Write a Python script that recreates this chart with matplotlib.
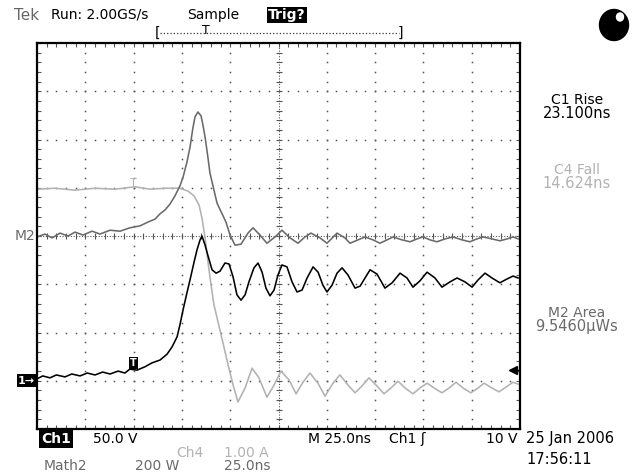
import matplotlib
matplotlib.use('Agg')
import matplotlib.pyplot as plt
import matplotlib.transforms as mtransforms
from matplotlib.patches import Ellipse
from matplotlib.lines import Line2D
import numpy as np

# scope screen: 25 ns/div horizontally (10 div), vertical values in screen divisions (8 div)
# Ch4 current (light gray)
c4_t = [0, 9.3, 19.7, 30.0, 40.4, 50.7, 58.5, 66.3, 74.0, 78.2, 81.3, 83.9, 85.4, 87.0,
        88.5, 90.1, 91.6, 93.7, 96.3, 98.9, 101.5, 104.0, 107.7, 111.3, 114.9, 119.0,
        122.7, 126.3, 130.4, 134.1, 137.7, 141.3, 145.4, 149.1, 153.2, 156.8, 161.0,
        164.6, 168.2, 171.8, 176.0, 179.6, 183.2, 186.9, 190.5, 194.6, 198.2, 201.9,
        205.5, 209.6, 213.3, 216.9, 220.5, 224.6, 228.3, 231.4, 235.5, 239.1, 242.8,
        246.4, 249.0]
c4_div = [0.97, 0.99, 0.95, 0.99, 0.97, 1.02, 0.97, 0.99, 0.99, 0.93, 0.83, 0.64, 0.37, -0.04,
          -0.54, -1.02, -1.43, -1.78, -2.22, -2.67, -3.09, -3.44, -3.15, -2.74, -2.94, -3.34,
          -3.09, -2.80, -2.98, -3.27, -3.03, -2.84, -3.05, -3.32, -3.05, -2.88, -3.09,
          -3.25, -3.11, -2.94, -3.11, -3.27, -3.15, -3.01, -3.15, -3.27, -3.15, -3.05,
          -3.15, -3.25, -3.15, -3.03, -3.15, -3.25, -3.15, -3.05, -3.15, -3.23, -3.13,
          -3.03, -3.07]

# Ch1 voltage (black)
c1_t = [0, 3, 6.7, 10, 14.5, 18, 22.3, 26, 30.0, 34, 37.8, 42, 45.5, 48, 51.8, 55.9,
        59.5, 63.7, 67.3, 69.9, 72.5, 74.0, 75.6, 77.6, 79.2, 81.3, 82.8, 84.4, 85.4,
        87.0, 88.5, 90.6, 92.7, 94.7, 97.3, 99.4, 101.5, 103.5, 105.6, 107.7, 109.7,
        112.3, 114.4, 116.5, 118.5, 120.6, 122.7, 124.7, 126.8, 129.4, 132.0, 134.6,
        137.2, 139.8, 142.9, 145.5, 148.0, 150.1, 152.7, 155.3, 157.9, 161.0, 164.6,
        167.2, 169.8, 172.4, 176.0, 180.1, 183.8, 187.9, 191.5, 194.6, 198.2, 201.9,
        206.0, 209.6, 213.8, 217.4, 221.5, 225.2, 228.3, 231.9, 235.5, 239.6, 243.3,
        246.4, 249.0]
c1_div = [-2.96, -2.90, -2.94, -2.88, -2.92, -2.86, -2.90, -2.84, -2.88, -2.82, -2.86, -2.80,
          -2.84, -2.76, -2.78, -2.71, -2.63, -2.57, -2.45, -2.30, -2.09, -1.84, -1.53,
          -1.18, -0.91, -0.54, -0.29, -0.08, 0.00, -0.19, -0.41, -0.70, -0.77, -0.73,
          -0.56, -0.58, -0.85, -1.22, -1.33, -1.22, -0.95, -0.66, -0.56, -0.75, -1.08,
          -1.24, -1.12, -0.81, -0.60, -0.64, -0.95, -1.16, -1.12, -0.87, -0.64, -0.75,
          -1.02, -1.16, -1.02, -0.77, -0.66, -0.81, -1.08, -1.04, -0.87, -0.70, -0.79,
          -1.08, -0.97, -0.77, -0.87, -1.06, -0.93, -0.75, -0.87, -1.06, -0.95, -0.87,
          -0.95, -1.06, -0.91, -0.77, -0.87, -0.97, -0.89, -0.83, -0.87]

# Math2 power (dark gray)
m2_t = [0, 4.1, 7.8, 11.9, 16.0, 19.7, 23.8, 28.5, 32.6, 37.8, 43.0, 48.1, 53.3, 57.5,
        61.1, 63.7, 66.3, 68.8, 71.4, 74.0, 75.6, 77.6, 79.2, 80.7, 81.8, 83.3, 84.9,
        85.9, 87.0, 88.5, 89.5, 91.6, 93.2, 95.8, 97.8, 99.9, 102.5, 105.6, 109.2,
        111.8, 115.4, 119.0, 123.2, 126.8, 131.0, 135.1, 138.7, 141.8, 146.5, 150.1,
        155.3, 159.4, 162.0, 166.2, 169.8, 173.9, 177.5, 181.2, 184.3, 188.9, 193.1,
        196.7, 199.8, 203.4, 207.0, 211.2, 215.3, 220.0, 224.1, 227.7, 230.9, 235.5,
        239.6, 243.3, 246.4, 249.0]
m2_div = [-0.02, 0.04, -0.04, 0.06, 0.00, 0.08, 0.02, 0.10, 0.04, 0.12, 0.10, 0.17, 0.21,
          0.29, 0.35, 0.46, 0.54, 0.66, 0.83, 1.04, 1.22, 1.53, 1.84, 2.24, 2.47, 2.57,
          2.49, 2.30, 2.05, 1.62, 1.31, 0.95, 0.68, 0.46, 0.29, 0.02, -0.19, -0.17, 0.06,
          0.17, 0.02, -0.15, -0.02, 0.12, -0.04, -0.15, -0.02, 0.06, -0.04, -0.15, 0.06,
          -0.04, -0.15, -0.08, -0.02, -0.08, -0.15, -0.08, -0.02, -0.08, -0.12, -0.06,
          -0.02, -0.08, -0.12, -0.06, -0.02, -0.08, -0.12, -0.06, -0.02, -0.06, -0.10,
          -0.06, -0.02, -0.06]

trig_t = 50.0
c4_trig = 1.10
c1_trig = -2.63
c1_ref = -3.0
m2_ref = 0.0
c4_ref = -2.78

LIGHT = '#b2b2b2'
DARK = '#6a6a6a'
GRID = '#555555'

W, H = 632, 474
fig = plt.figure(figsize=(W / 100, H / 100), dpi=100)
ax = fig.add_axes([37 / W, 1 - 429 / H, 483 / W, 386 / H])
ax.set_xlim(0, 250)
ax.set_ylim(-4, 4)

ax.set_xticks(np.arange(0, 251, 25))
ax.set_xticks(np.arange(0, 251, 5), minor=True)
ax.set_yticks(np.arange(-4, 4.01, 1))
ax.set_yticks(np.arange(-4, 4.01, 0.2), minor=True)
ax.tick_params(which='both', direction='in', top=True, right=True, length=3,
               width=0.8, color=GRID, labelbottom=False, labelleft=False)
for s in ax.spines.values():
    s.set_linewidth(1.6)

# dotted graticule
ydots = np.arange(-3.8, 3.81, 0.2)
xdots = np.arange(5, 250, 5)
for t in range(25, 250, 25):
    if t == 125:
        continue
    ax.plot([t] * len(ydots), ydots, ls='none', marker='s', ms=1.1, mew=0, color=GRID)
for y in range(-3, 4):
    if y == 0:
        continue
    ax.plot(xdots, [y] * len(xdots), ls='none', marker='s', ms=1.1, mew=0, color=GRID)
ax.axvline(125, ls=(0, (1, 1.5)), lw=0.8, color=GRID)
ax.axhline(0, ls=(0, (1, 1.5)), lw=0.8, color=GRID)
ax.plot(xdots, [0] * len(xdots), ls='none', marker='|', ms=5, mew=0.8, color=GRID)
ax.plot([125] * len(ydots), ydots, ls='none', marker='_', ms=5, mew=0.8, color=GRID)

# traces
ax.plot(c4_t, c4_div, color=LIGHT, lw=1.15)
ax.plot(m2_t, m2_div, color=DARK, lw=1.15)
ax.plot(c1_t, c1_div, color='black', lw=1.15)

# trigger / reference markers
ax.text(trig_t, c4_trig, 'T', color=LIGHT, ha='center', va='center', fontsize=8)
ax.text(trig_t, c1_trig, 'T', color='white', ha='center', va='center', fontsize=7,
        fontweight='bold', bbox=dict(fc='black', ec='none', pad=1))
trans = mtransforms.blended_transform_factory(ax.transAxes, ax.transData)
ax.text(-0.004, m2_ref, 'M2', transform=trans, ha='right', va='center', color=DARK, fontsize=10)
ax.text(-0.004, c1_ref, '1\u2192', transform=trans, ha='right', va='center', color='white',
        fontsize=8, fontweight='bold', bbox=dict(fc='black', ec='none', pad=1))
ax.plot([0.985], [c4_ref], transform=trans, marker='<', ms=6, color='black', clip_on=False)
ax.plot([0.985, 1.0], [c4_ref, c4_ref], transform=trans, color='black', lw=1)


def ftxt(x, y, s, **kw):
    kw.setdefault('fontsize', 10)
    kw.setdefault('va', 'center')
    return fig.text(x / W, 1 - y / H, s, **kw)


# header
ftxt(14, 15, 'Tek', color='#666666', fontsize=11)
ftxt(51, 15, 'Run: 2.00GS/s')
ftxt(187, 15, 'Sample')
ftxt(268, 15, 'Trig?', color='white', fontweight='bold',
     bbox=dict(fc='black', ec='none', pad=1))
fig.add_artist(Line2D([160 / W, 399 / W], [1 - 33 / H] * 2, ls=':', lw=0.9, color='#333333'))
ftxt(155, 33, '[', fontsize=10)
ftxt(398, 33, ']', fontsize=10)
ftxt(206, 30, 'T', fontsize=9, ha='center')
fig.add_artist(Ellipse((614 / W, 1 - 25 / H), 29 / W, 31 / H, transform=fig.transFigure,
                       color='black'))
fig.add_artist(Ellipse((620 / W, 1 - 17 / H), 7 / W, 8 / H, transform=fig.transFigure,
                       color='white'))

# right-hand measurement readouts
ftxt(577, 100, 'C1 Rise', ha='center')
ftxt(577, 113, '23.100ns', ha='center', fontsize=10.5)
ftxt(577, 170, 'C4 Fall', ha='center', color=LIGHT)
ftxt(577, 183, '14.624ns', ha='center', fontsize=10.5, color=LIGHT)
ftxt(577, 313, 'M2 Area', ha='center', color=DARK)
ftxt(577, 326, '9.5460\u00b5Ws', ha='center', fontsize=10.5, color=DARK)

# footer
ftxt(41, 439, 'Ch1', color='white', fontweight='bold', bbox=dict(fc='black', ec='none', pad=1.2))
ftxt(93, 439, '50.0 V')
ftxt(308, 439, 'M 25.0ns')
ftxt(389, 439, 'Ch1 \u0283')
ftxt(518, 439, '10 V', ha='right')
ftxt(526, 439, '25 Jan 2006', fontsize=10.5)
ftxt(526, 460, '17:56:11', fontsize=10.5)
ftxt(176, 453, 'Ch4', color=LIGHT)
ftxt(224, 453, '1.00 A', color=LIGHT)
ftxt(44, 466, 'Math2', color=DARK)
ftxt(135, 466, '200 W', color=DARK)
ftxt(224, 466, '25.0ns', color=DARK)

fig.savefig('out.png', dpi=100)
